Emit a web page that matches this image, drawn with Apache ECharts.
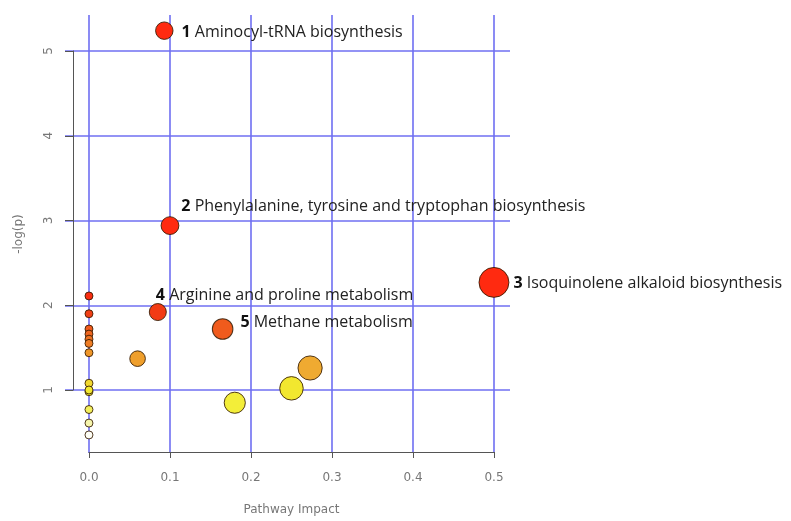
<!DOCTYPE html>
<html>
<head>
<meta charset="utf-8">
<script src="https://cdn.jsdelivr.net/npm/echarts@6/dist/echarts.min.js"></script>
<style>
    html, body { margin: 0; padding: 0; background: #fff; }
    #chart { width: 791px; height: 521px; }
</style>
</head>
<body>
<div id="chart"></div>
<script>
// pathway impact (x) and -log(p) (y), one entry per pathway
const impact = [0.093, 0.100, 0.500, 0.085, 0.165, 0.060, 0.180, 0.273, 0.250,
    0, 0, 0, 0, 0, 0, 0, 0, 0, 0, 0, 0, 0];
const logp = [5.24, 2.94, 2.27, 1.92, 1.72, 1.37, 0.85, 1.26, 1.02,
    2.11, 1.90, 1.72, 1.66, 1.60, 1.55, 1.44, 1.08, 0.98, 1.00, 0.77, 0.61, 0.47];
// rank / name of the labelled pathways (same order as above)
const rank = [1, 2, 3, 4, 5];
const pathwayNames = [
    'Aminocyl-tRNA biosynthesis',
    'Phenylalanine, tyrosine and tryptophan biosynthesis',
    'Isoquinolene alkaloid biosynthesis',
    'Arginine and proline metabolism',
    'Methane metabolism'
];
const xTicks = [0, 0.1, 0.2, 0.3, 0.4, 0.5];
const yTicks = [1, 2, 3, 4, 5];

// label placement, per labelled point
const labelOffsets = {
    1: [3, 2],
    2: [-3, -19],
    3: [-1, 1],
    4: [-16, -17],
    5: [2, -7]
};

const gridColor = '#6f6ff2';
const axisColor = '#555';
const tickFont = { color: '#777', fontFamily: 'DejaVu Sans', fontSize: 12 };

const points = impact.map((x, i) => {
    const item = { value: [x, logp[i]] };
    if (i < rank.length) {
        const r = rank[i];
        item.label = {
            show: true,
            position: 'right',
            distance: 5,
            offset: labelOffsets[r],
            formatter: '{b|' + r + '} ' + pathwayNames[i],
            color: '#222',
            fontFamily: 'Open Sans',
            fontSize: 16,
            rich: {
                b: { fontWeight: 'bold', fontFamily: 'Open Sans', fontSize: 16, color: '#111' }
            }
        };
    }
    return item;
});

const chart = echarts.init(document.getElementById('chart'));

const option = {
    animation: false,
    backgroundColor: '#fff',
    grid: [
        // plotting region (grid lines span it)
        { left: 65, right: 281, top: 15, bottom: 68 },
        // x axis line: 0 .. 0.5
        { left: 89, right: 297, top: 15, bottom: 68 },
        // y axis line: 1 .. 5
        { left: 73, right: 281, top: 51, bottom: 131 }
    ],
    visualMap: {
        show: false,
        type: 'continuous',
        dimension: 1,
        seriesIndex: 0,
        min: 0.45,
        max: 2.2,
        inRange: {
            color: ['#ffffff', '#f4f39a', '#f3ef3a', '#f2e62e', '#efad32',
                '#ef9a2a', '#ef6e22', '#f04a18', '#f33012', '#ff2a10']
        }
    },
    xAxis: [
        {
            gridIndex: 0,
            type: 'value',
            min: -0.0296,
            max: 0.5198,
            axisLine: { show: false },
            axisTick: { show: false },
            axisLabel: { show: false },
            splitLine: {
                show: true,
                showMinLine: false,
                showMaxLine: false,
                lineStyle: { color: gridColor, width: 1.6 }
            }
        },
        {
            gridIndex: 1,
            type: 'value',
            min: xTicks[0],
            max: xTicks[xTicks.length - 1],
            interval: 0.1,
            name: 'Pathway Impact',
            nameLocation: 'middle',
            nameGap: 52,
            nameTextStyle: { color: '#777', fontFamily: 'DejaVu Sans', fontSize: 12 },
            axisLine: { show: true, onZero: false, lineStyle: { color: axisColor, width: 1 } },
            axisTick: { show: true, length: 6, lineStyle: { color: axisColor } },
            axisLabel: Object.assign({ margin: 20, formatter: v => v.toFixed(1) }, tickFont),
            splitLine: { show: false }
        },
        { gridIndex: 2, type: 'value', show: false, min: 0, max: 1 }
    ],
    yAxis: [
        {
            gridIndex: 0,
            type: 'value',
            min: 0.257,
            max: 5.425,
            name: '-log(p)',
            nameLocation: 'middle',
            nameRotate: 90,
            nameGap: 40,
            nameTextStyle: { color: '#777', fontFamily: 'DejaVu Sans', fontSize: 12 },
            axisLine: { show: false },
            axisTick: { show: false },
            axisLabel: { show: false },
            splitLine: {
                show: true,
                showMinLine: false,
                showMaxLine: false,
                lineStyle: { color: gridColor, width: 1.6 }
            }
        },
        { gridIndex: 1, type: 'value', show: false, min: 0, max: 1 },
        {
            gridIndex: 2,
            type: 'value',
            min: yTicks[0],
            max: yTicks[yTicks.length - 1],
            interval: 1,
            axisLine: { show: true, onZero: false, lineStyle: { color: axisColor, width: 1 } },
            axisTick: { show: true, length: 8, lineStyle: { color: axisColor } },
            axisLabel: Object.assign({ margin: 18, rotate: 90 }, tickFont),
            splitLine: { show: false }
        }
    ],
    series: [
        {
            type: 'scatter',
            xAxisIndex: 0,
            yAxisIndex: 0,
            symbol: 'circle',
            symbolSize: val => 2 * (4 + 15.5 * Math.sqrt(val[0])),
            itemStyle: {
                opacity: 1,
                borderColor: 'rgba(50,25,0,0.85)',
                borderWidth: 1
            },
            emphasis: { disabled: true },
            data: points
        }
    ]
};

chart.setOption(option);
</script>
</body>
</html>
